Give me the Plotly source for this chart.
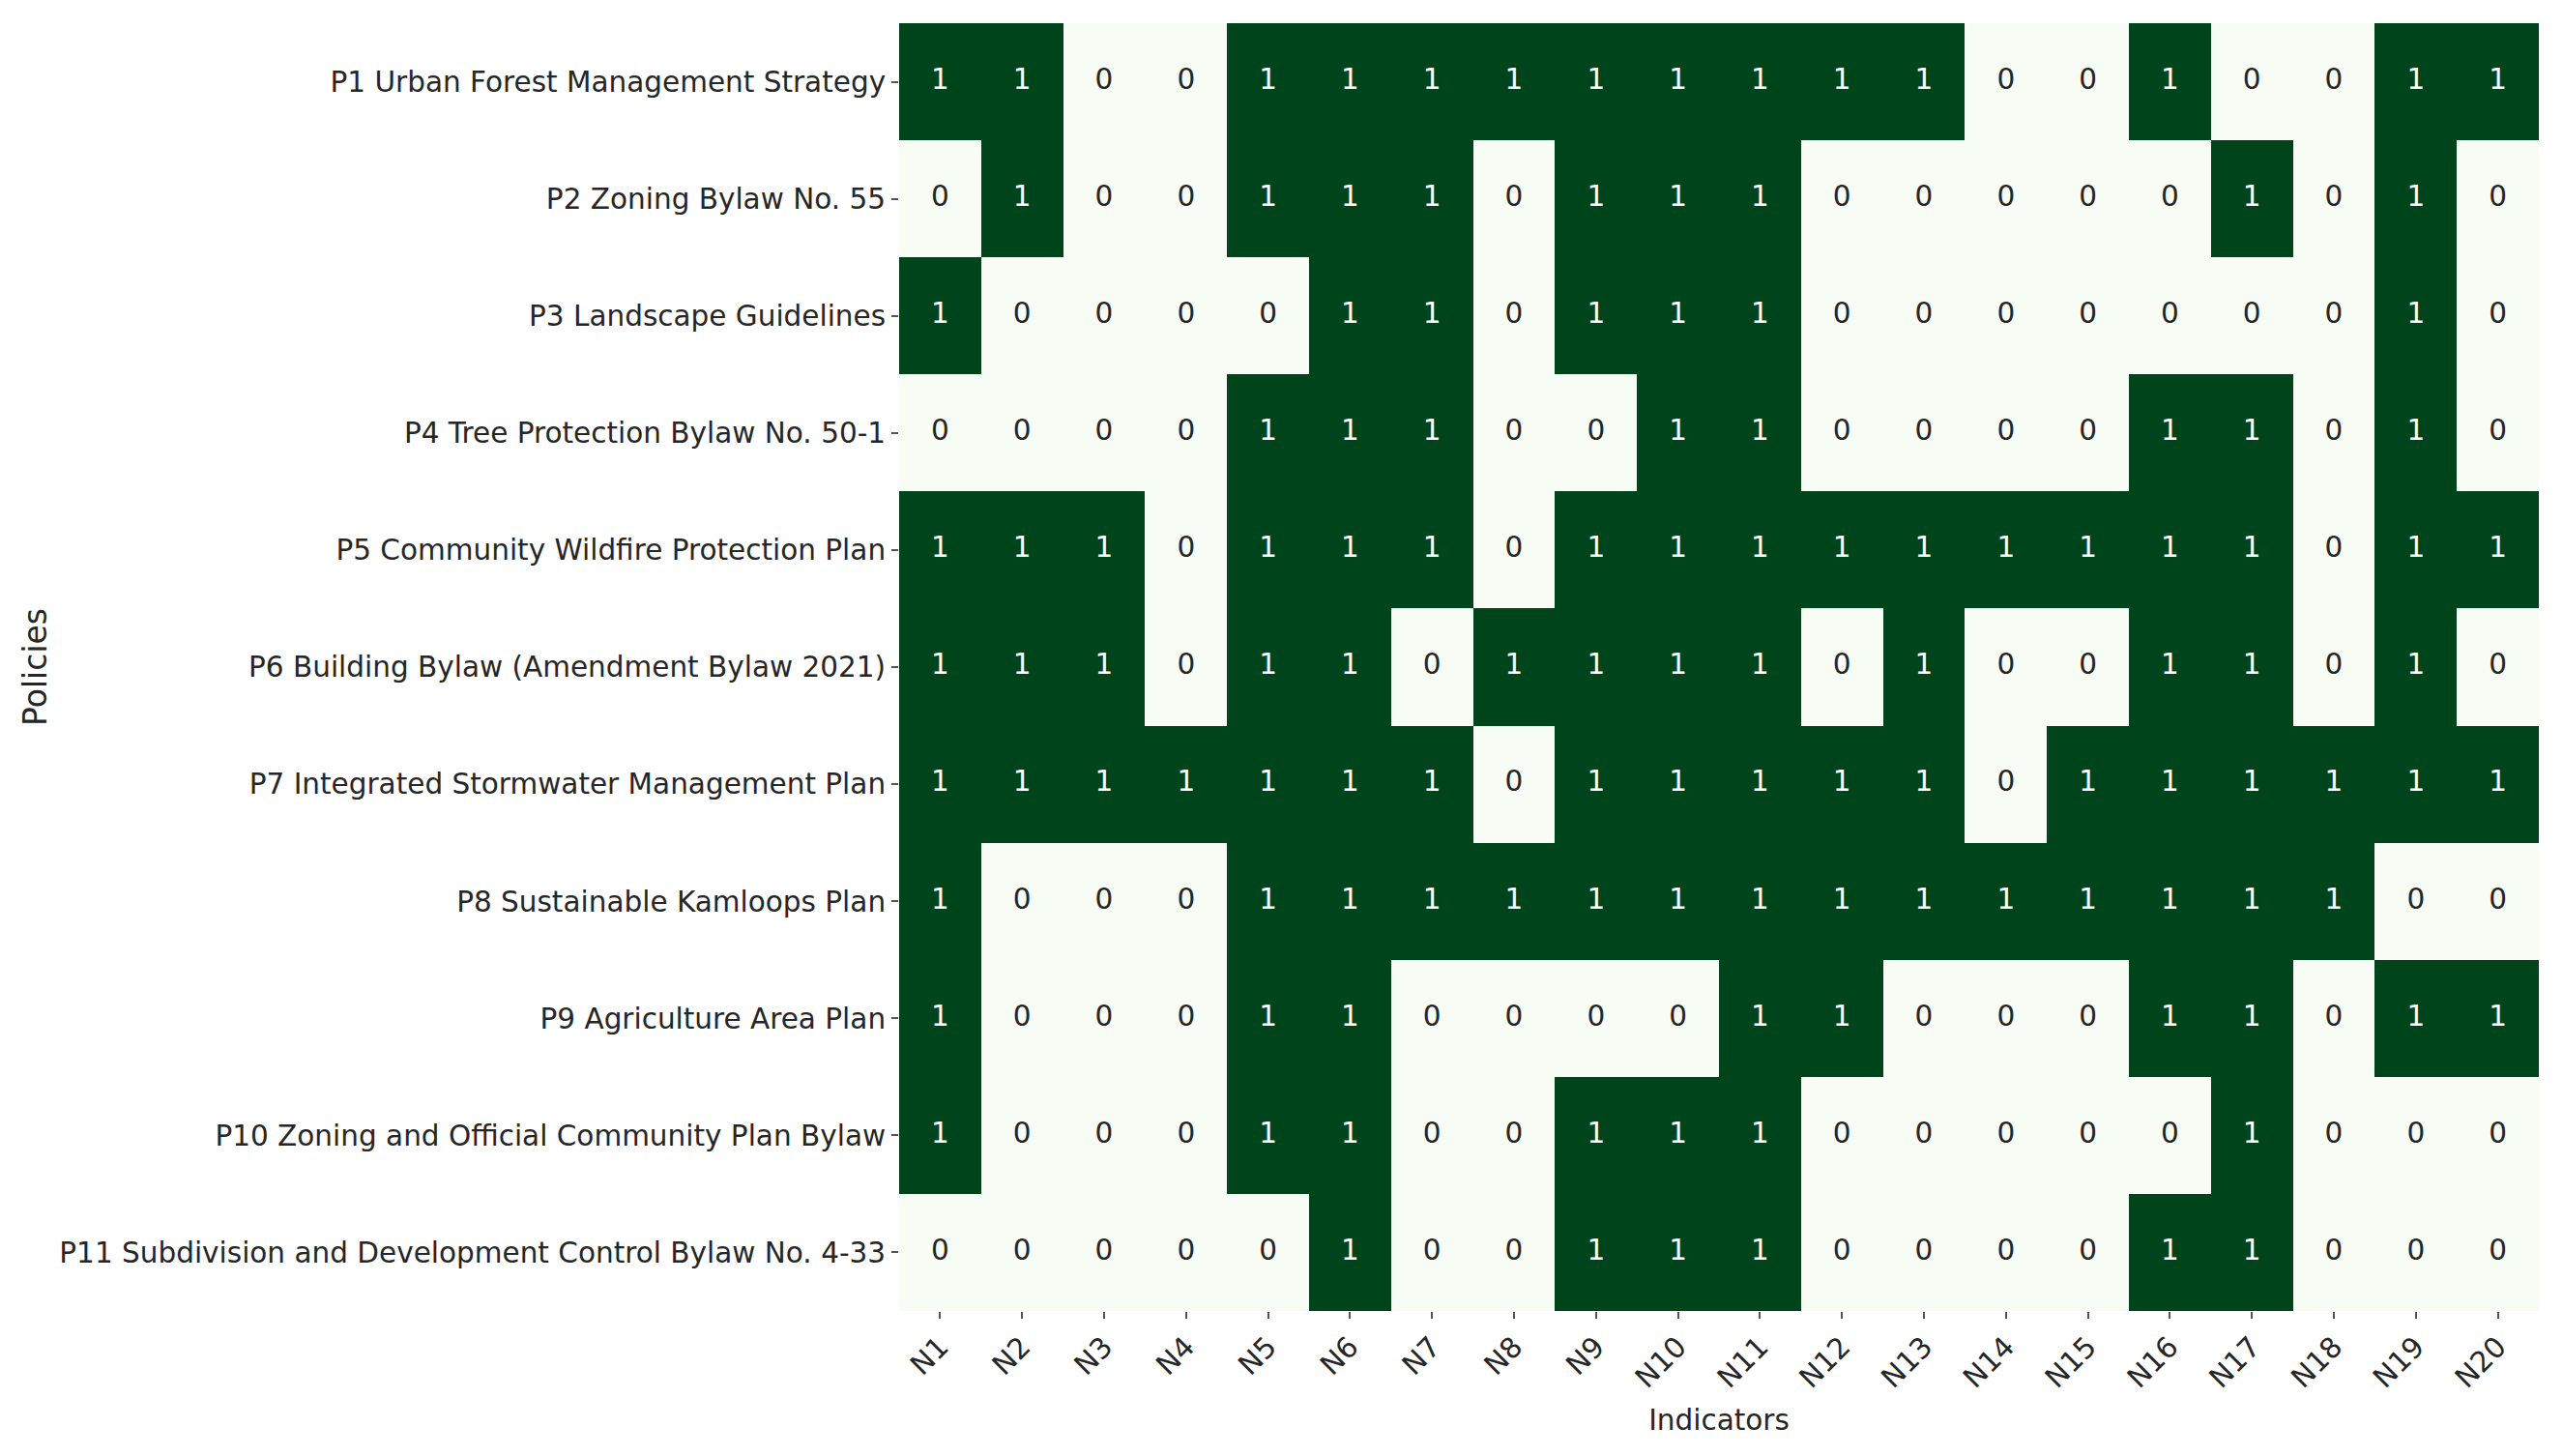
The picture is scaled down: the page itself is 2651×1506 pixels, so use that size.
import plotly.graph_objects as go

policies = [
    "P1 Urban Forest Management Strategy",
    "P2 Zoning Bylaw No. 55",
    "P3 Landscape Guidelines",
    "P4 Tree Protection Bylaw No. 50-1",
    "P5 Community Wildfire Protection Plan",
    "P6 Building Bylaw (Amendment Bylaw 2021)",
    "P7 Integrated Stormwater Management Plan",
    "P8 Sustainable Kamloops Plan",
    "P9 Agriculture Area Plan",
    "P10 Zoning and Official Community Plan Bylaw",
    "P11 Subdivision and Development Control Bylaw No. 4-33",
]
indicators = [f"N{i}" for i in range(1, 21)]

p1 = [1, 1, 0, 0, 1, 1, 1, 1, 1, 1, 1, 1, 1, 0, 0, 1, 0, 0, 1, 1]
p2 = [0, 1, 0, 0, 1, 1, 1, 0, 1, 1, 1, 0, 0, 0, 0, 0, 1, 0, 1, 0]
p3 = [1, 0, 0, 0, 0, 1, 1, 0, 1, 1, 1, 0, 0, 0, 0, 0, 0, 0, 1, 0]
p4 = [0, 0, 0, 0, 1, 1, 1, 0, 0, 1, 1, 0, 0, 0, 0, 1, 1, 0, 1, 0]
p5 = [1, 1, 1, 0, 1, 1, 1, 0, 1, 1, 1, 1, 1, 1, 1, 1, 1, 0, 1, 1]
p6 = [1, 1, 1, 0, 1, 1, 0, 1, 1, 1, 1, 0, 1, 0, 0, 1, 1, 0, 1, 0]
p7 = [1, 1, 1, 1, 1, 1, 1, 0, 1, 1, 1, 1, 1, 0, 1, 1, 1, 1, 1, 1]
p8 = [1, 0, 0, 0, 1, 1, 1, 1, 1, 1, 1, 1, 1, 1, 1, 1, 1, 1, 0, 0]
p9 = [1, 0, 0, 0, 1, 1, 0, 0, 0, 0, 1, 1, 0, 0, 0, 1, 1, 0, 1, 1]
p10 = [1, 0, 0, 0, 1, 1, 0, 0, 1, 1, 1, 0, 0, 0, 0, 0, 1, 0, 0, 0]
p11 = [0, 0, 0, 0, 0, 1, 0, 0, 1, 1, 1, 0, 0, 0, 0, 1, 1, 0, 0, 0]

matrix = [p1, p2, p3, p4, p5, p6, p7, p8, p9, p10, p11]

LIGHT = "#f7fcf5"
DARK = "#00441b"
FONT = "DejaVu Sans"
FS = 29.5

fig = go.Figure()
fig.add_trace(go.Heatmap(
    z=matrix, x=indicators, y=policies,
    colorscale=[[0, LIGHT], [1, DARK]], zmin=0, zmax=1,
    showscale=False, xgap=0, ygap=0, hoverinfo="skip",
))

for val, col in [(1, "#ffffff"), (0, "#262626")]:
    xs, ys, ts = [], [], []
    for r, row in enumerate(matrix):
        for c, v in enumerate(row):
            if v == val:
                xs.append(indicators[c]); ys.append(policies[r]); ts.append(str(v))
    fig.add_trace(go.Scatter(
        x=xs, y=ys, text=ts, mode="text",
        textfont=dict(family=FONT, size=FS, color=col),
        textposition="middle center", showlegend=False, hoverinfo="skip",
    ))

fig.update_layout(
    width=2651, height=1506,
    margin=dict(l=922, r=33, t=16, b=158),
    paper_bgcolor="white", plot_bgcolor="white",
    font=dict(family=FONT, size=FS, color="#262626"),
    showlegend=False,
)
fig.update_xaxes(
    type="category", categoryorder="array", categoryarray=indicators,
    range=[-0.5, len(indicators) - 0.5], autorange=False,
    tickangle=-45, ticks="outside", ticklen=7, tickwidth=1.5, tickcolor="#555555",
    showgrid=False, zeroline=False, showline=False,
    tickfont=dict(family=FONT, size=FS, color="#262626"),
    title=dict(text="Indicators", font=dict(family=FONT, size=FS, color="#262626"), standoff=17),
    automargin=False,
)
fig.update_yaxes(
    type="category", categoryorder="array", categoryarray=policies,
    range=[len(policies) - 0.5, -0.5], autorange=False,
    ticks="outside", ticklen=7, tickwidth=1.5, tickcolor="#555555",
    showgrid=False, zeroline=False, showline=False,
    tickfont=dict(family=FONT, size=FS, color="#262626"),
    title=dict(text="Policies", font=dict(family=FONT, size=33, color="#262626"), standoff=2),
    automargin=False,
)

fig.write_html("out.html")
